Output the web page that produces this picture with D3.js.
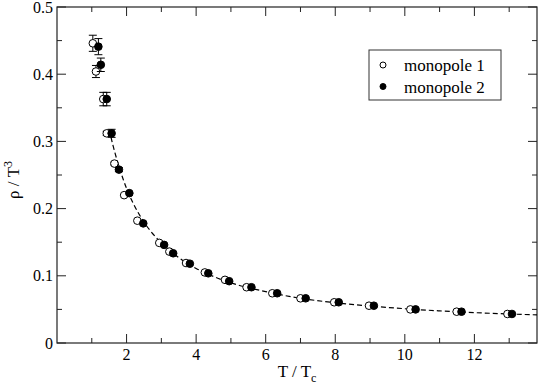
<!DOCTYPE html>
<html>
<head>
<meta charset="utf-8">
<script src="https://cdn.jsdelivr.net/npm/d3@7"></script>
<style>
  body { margin: 0; background: #fff; }
</style>
</head>
<body>
<script>
// monopole 1 (open circles)
var t1 = [1.03, 1.12, 1.33, 1.43, 1.65, 1.93, 2.31, 2.94, 3.23, 3.71, 4.25, 4.83, 5.45, 6.19, 7.00, 7.97, 8.97, 10.16, 11.49, 12.95];
var rho1 = [0.446, 0.404, 0.363, 0.312, 0.267, 0.220, 0.182, 0.149, 0.136, 0.119, 0.105, 0.094, 0.083, 0.074, 0.0665, 0.0606, 0.0555, 0.050, 0.0466, 0.0432];
var err1 = [0.012, 0.009, 0.010, 0.003, 0.002, 0, 0, 0, 0, 0, 0, 0, 0, 0, 0, 0, 0, 0, 0, 0];

// monopole 2 (filled circles)
var t2 = [1.19, 1.26, 1.43, 1.57, 1.78, 2.08, 2.48, 3.08, 3.34, 3.82, 4.35, 4.95, 5.59, 6.33, 7.15, 8.10, 9.11, 10.31, 11.63, 13.08];
var rho2 = [0.441, 0.414, 0.363, 0.312, 0.258, 0.223, 0.178, 0.146, 0.1335, 0.118, 0.1037, 0.092, 0.083, 0.074, 0.0665, 0.0606, 0.0555, 0.050, 0.0466, 0.0432];
var err2 = [0.012, 0.010, 0.010, 0.006, 0.003, 0, 0, 0, 0, 0, 0, 0, 0, 0, 0, 0, 0, 0, 0, 0];

// fit curve (dashed)
var fitT = [1.5, 1.6, 1.75, 1.9, 2.0, 2.2, 2.5, 3.0, 3.5, 4.0, 4.5, 5.0, 6.0, 7.0, 8.0, 9.0, 10.0, 11.0, 12.0, 13.0, 13.8];
var fitRho = [0.318, 0.296, 0.268, 0.244, 0.230, 0.207, 0.180, 0.149, 0.127, 0.111, 0.099, 0.0895, 0.0765, 0.0665, 0.0600, 0.0550, 0.0510, 0.0478, 0.0452, 0.0432, 0.0418];

var xTicks = [2, 4, 6, 8, 10, 12];
var xMinor = [1, 3, 5, 7, 9, 11, 13];
var yTicks = [0, 0.1, 0.2, 0.3, 0.4, 0.5];
var yMinor = [0.05, 0.15, 0.25, 0.35, 0.45];
var legendNames = ["monopole 1", "monopole 2"];

var W = 540, H = 388;
var margin = {left: 57, right: 3, top: 7, bottom: 45};
var width = W - margin.left - margin.right;
var height = H - margin.top - margin.bottom;

var svg = d3.select("body").append("svg")
    .attr("width", W)
    .attr("height", H)
    .attr("font-family", "'Liberation Serif', 'Times New Roman', 'DejaVu Serif', serif")
    .append("g")
    .attr("transform", "translate(" + margin.left + "," + margin.top + ")");

var x = d3.scaleLinear().domain([0, 13.8]).range([0, width]);
var y = d3.scaleLinear().domain([0, 0.5]).range([height, 0]);

// frame
svg.append("rect")
    .attr("width", width).attr("height", height)
    .attr("fill", "none").attr("stroke", "#222").attr("stroke-width", 1.2);

// ticks pointing inward on all four sides
function ticks(vals, len, horizontal) {
    var g = svg.append("g").attr("stroke", "#222").attr("stroke-width", 1);
    vals.forEach(function(v) {
        if (horizontal) {
            g.append("line").attr("x1", x(v)).attr("x2", x(v)).attr("y1", height).attr("y2", height - len);
            g.append("line").attr("x1", x(v)).attr("x2", x(v)).attr("y1", 0).attr("y2", len);
        } else {
            g.append("line").attr("y1", y(v)).attr("y2", y(v)).attr("x1", 0).attr("x2", len);
            g.append("line").attr("y1", y(v)).attr("y2", y(v)).attr("x1", width).attr("x2", width - len);
        }
    });
}
ticks(xTicks, 9, true);
ticks(xMinor, 5, true);
ticks(yTicks, 9, false);
ticks(yMinor, 5, false);

// tick labels
svg.append("g").selectAll("text")
    .data(xTicks).enter().append("text")
    .attr("x", function(d) { return x(d); })
    .attr("y", height + 17)
    .attr("text-anchor", "middle")
    .attr("font-size", 16)
    .text(function(d) { return d; });

svg.append("g").selectAll("text")
    .data(yTicks).enter().append("text")
    .attr("x", -4)
    .attr("y", function(d) { return y(d) + (d === 0.5 ? 6 : 5.5); })
    .attr("text-anchor", "end")
    .attr("font-size", 16)
    .text(function(d) { return d === 0 ? "0" : d3.format(".1f")(d); });

// axis titles
var xt = svg.append("text")
    .attr("x", width / 2)
    .attr("y", height + 34)
    .attr("text-anchor", "middle")
    .attr("font-size", 17);
xt.append("tspan").text("T / T");
xt.append("tspan").attr("font-size", 12).attr("dy", 5).text("c");

var yt = svg.append("text")
    .attr("transform", "translate(-38," + (height / 2 + 5) + ") rotate(-90)")
    .attr("text-anchor", "middle")
    .attr("font-size", 17);
yt.append("tspan").text("\u03c1 / T");
yt.append("tspan").attr("font-size", 12).attr("dy", -7).text("3");

// dashed fit
var line = d3.line()
    .x(function(d, i) { return x(fitT[i]); })
    .y(function(d, i) { return y(fitRho[i]); })
    .curve(d3.curveMonotoneX);
svg.append("path")
    .datum(fitT)
    .attr("d", line)
    .attr("fill", "none")
    .attr("stroke", "#000")
    .attr("stroke-width", 1.2)
    .attr("stroke-dasharray", "5,3");

// error bars + markers
function series(ts, rs, es, filled) {
    var g = svg.append("g");
    ts.forEach(function(t, i) {
        if (es[i] > 0) {
            var cx = x(t), y0 = y(rs[i] - es[i]), y1 = y(rs[i] + es[i]);
            g.append("line").attr("x1", cx).attr("x2", cx).attr("y1", y0).attr("y2", y1).attr("stroke", "#000");
            g.append("line").attr("x1", cx - 4).attr("x2", cx + 4).attr("y1", y0).attr("y2", y0).attr("stroke", "#000");
            g.append("line").attr("x1", cx - 4).attr("x2", cx + 4).attr("y1", y1).attr("y2", y1).attr("stroke", "#000");
        }
    });
    g.selectAll("circle")
        .data(ts).enter().append("circle")
        .attr("cx", function(d) { return x(d); })
        .attr("cy", function(d, i) { return y(rs[i]); })
        .attr("r", 3.8)
        .attr("fill", filled ? "#000" : "#fff")
        .attr("stroke", "#000")
        .attr("stroke-width", 1);
}
series(t1, rho1, err1, false);
series(t2, rho2, err2, true);

// legend
var lg = svg.append("g").attr("transform", "translate(" + (369 - margin.left) + "," + (50 - margin.top) + ")");
lg.append("rect").attr("width", 132).attr("height", 50)
    .attr("fill", "#fff").attr("stroke", "#333").attr("stroke-width", 1);
legendNames.forEach(function(name, i) {
    lg.append("circle").attr("cx", 14).attr("cy", 15 + i * 21.5).attr("r", 3)
        .attr("fill", i === 0 ? "#fff" : "#000").attr("stroke", "#000");
    lg.append("text").attr("x", 35).attr("y", 21 + i * 21.5).attr("font-size", 17).text(name);
});
</script>
</body>
</html>
